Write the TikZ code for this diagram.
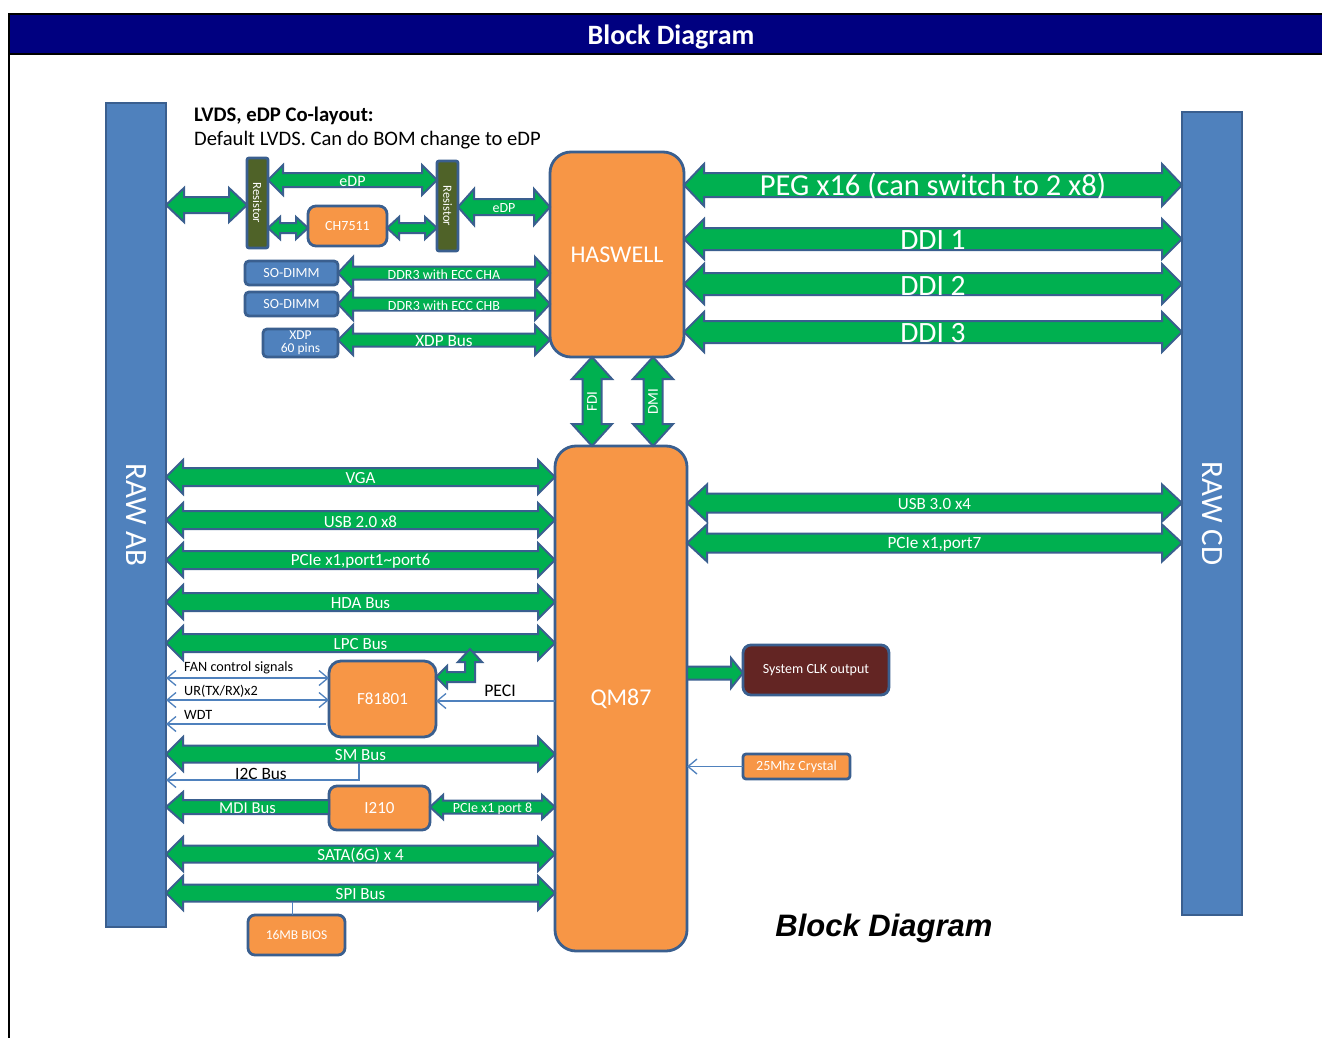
\documentclass[tikz,border=0pt]{standalone}
\usepackage{fontspec}
\setmainfont{Carlito}
\newfontfamily\arialf{Liberation Sans}
\usetikzlibrary{arrows.meta,calc}
\definecolor{orng}{HTML}{F79646}
\definecolor{blu}{HTML}{4F81BD}
\definecolor{bordc}{HTML}{3A5F8F}
\definecolor{grn}{HTML}{00B050}
\definecolor{olivec}{HTML}{4F6228}
\definecolor{dred}{HTML}{632523}
\definecolor{navyc}{HTML}{000080}
\newcommand\fsz[1]{\fontsize{#1}{#1}\selectfont}
% horizontal double fat arrow: #1 left pt, #2 right pt, #3 shaft half, #4 head half, #5 head len, #6 font size, #7 label
\newcommand\hdarrow[7]{%
\path[fatarrow] let \p1=(#1), \p2=(#2) in
 (\x1,\y1) -- (\x1+#5pt,\y1+#4pt) -- (\x1+#5pt,\y1+#3pt) -- (\x2-#5pt,\y1+#3pt) -- (\x2-#5pt,\y1+#4pt) -- (\x2,\y1)
 -- (\x2-#5pt,\y1-#4pt) -- (\x2-#5pt,\y1-#3pt) -- (\x1+#5pt,\y1-#3pt) -- (\x1+#5pt,\y1-#4pt) -- cycle
 (0.5*\x1+0.5*\x2,\y1) node[lbl,yshift=-1.5pt,font=\fsz{#6}]{#7};}
% vertical double fat arrow: #1 top pt, #2 bottom pt
\newcommand\vdarrow[7]{%
\path[fatarrow] let \p1=(#1), \p2=(#2) in
 (\x1,\y1) -- (\x1+#4pt,\y1-#5pt) -- (\x1+#3pt,\y1-#5pt) -- (\x1+#3pt,\y2+#5pt) -- (\x1+#4pt,\y2+#5pt) -- (\x1,\y2)
 -- (\x1-#4pt,\y2+#5pt) -- (\x1-#3pt,\y2+#5pt) -- (\x1-#3pt,\y1-#5pt) -- (\x1-#4pt,\y1-#5pt) -- cycle
 (\x1,0.5*\y1+0.5*\y2) node[lbl,rotate=90,font=\fsz{#6}]{#7};}
\begin{document}
\begin{tikzpicture}[x=1pt,y=-1pt,
  fatarrow/.style={fill=grn,draw=bordc,line width=2pt,line join=miter},
  lbl/.style={text=white,inner sep=0pt},
  bx/.style={draw=bordc,line width=2.8pt,outer sep=0pt,inner sep=0pt,align=center,text=white},
  rawbox/.style={bx,fill=blu,minimum width=60pt},
  obox/.style={bx,fill=orng,rounded corners=#1},
  bbox/.style={bx,fill=blu,rounded corners=4pt},
  resbox/.style={bx,fill=olivec,rounded corners=2pt,minimum width=21pt,minimum height=90pt},
  thin/.style={draw=blu,line width=1.3pt},
  tip/.tip={Straight Barb[length=9pt,width=15pt]},
  plain/.style={text=black,inner sep=0pt}
]
\useasboundingbox (0,0) rectangle (1322,1038);
% header and frame
\fill[white] (0,0) rectangle (1322,1038);
\filldraw[fill=navyc,draw=black,line width=2pt] (9,14) rectangle (1340,54);
\draw[black,line width=2pt] (9,54) -- (9,1045);
\node[lbl,font=\fsz{28}\bfseries] (title) at (671,37) {Block Diagram};

% rails
\node[rawbox,minimum height=824pt] (rawab) at (136,515) {};
\node[lbl,rotate=-90,font=\fsz{31}] (rawabt) at (rawab) {RAW AB};
\node[rawbox,minimum height=803pt] (rawcd) at (1212,513.5) {};
\node[lbl,rotate=-90,font=\fsz{31}] (rawcdt) at (rawcd) {RAW CD};

% chips
\node[obox=21pt,minimum width=134pt,minimum height=205pt,font=\fsz{24}] (haswell) at (617,254.5) {HASWELL};
\node[obox=21pt,minimum width=132pt,minimum height=505pt,font=\fsz{24}] (qm87) at (621,698.5) {QM87};

% notes
\node[plain,anchor=west,font=\fsz{20.7}\bfseries] (note1) at (194,115.5) {LVDS, eDP Co-layout:};
\node[plain,anchor=west,font=\fsz{20.6}] (note2) at (194,140.5) {Default LVDS. Can do BOM change to eDP};

% top-left blocks
\node[resbox] (res1) at (257.5,203) {};
\node[lbl,rotate=-90,font=\fsz{12.5}] (res1t) at (res1) {Resistor};
\node[resbox] (res2) at (447.5,206) {};
\node[lbl,rotate=-90,font=\fsz{12.5}] (res2t) at (res2) {Resistor};
\node[obox=8pt,minimum width=79pt,minimum height=40pt,font=\fsz{14}] (ch) at (347.5,226) {CH7511};
\node[bbox,minimum width=93pt,minimum height=24pt,font=\fsz{14}] (dimm1) at (291.5,273) {SO-DIMM};
\node[bbox,minimum width=93pt,minimum height=24pt,font=\fsz{14}] (dimm2) at (291.5,304) {SO-DIMM};
\node[bbox,minimum width=75pt,minimum height=28pt,font=\fsz{13.5}] (xdp) at (300.5,343) {XDP\\[-1pt]60 pins};

% top-left arrows
\hdarrow{rawab.east |- 0,205}{res1.west |- 0,205}{8}{17}{18}{14}{}
\hdarrow{res1.east |- 0,180}{res2.west |- 0,180}{7}{15}{15}{16}{eDP}
\hdarrow{res1.east |- 0,228}{ch.west |- 0,228}{5}{11}{12}{12}{}
\hdarrow{ch.east |- 0,228}{res2.west |- 0,228}{5}{11}{12}{12}{}
\hdarrow{res2.east |- 0,207}{haswell.west |- 0,207}{8}{18}{16}{14}{eDP}
\hdarrow{dimm1.east}{haswell.west |- dimm1.east}{6.5}{16}{15}{14}{DDR3 with ECC CHA}
\hdarrow{dimm2.east}{haswell.west |- dimm2.east}{6.5}{16}{15}{14}{DDR3 with ECC CHB}
\hdarrow{xdp.east |- 0,340}{haswell.west |- 0,340}{6.5}{15}{15}{17.2}{XDP Bus}

% right of haswell
\hdarrow{haswell.east |- 0,185}{rawcd.west |- 0,185}{12}{21}{20}{30.5}{PEG x16 (can switch to 2 x8)}
\hdarrow{haswell.east |- 0,239}{rawcd.west |- 0,239}{11}{20}{20}{29.5}{DDI 1}
\hdarrow{haswell.east |- 0,284}{rawcd.west |- 0,284}{11}{20}{20}{29.5}{DDI 2}
\hdarrow{haswell.east |- 0,332}{rawcd.west |- 0,332}{11}{20}{20}{29.5}{DDI 3}

% FDI / DMI
\vdarrow{haswell.south -| 592,0}{qm87.north -| 592,0}{9.5}{20}{22}{15}{FDI}
\vdarrow{haswell.south -| 653,0}{qm87.north -| 653,0}{9.5}{20}{22}{15}{DMI}

% left of QM87
\hdarrow{rawab.east |- 0,477}{qm87.west |- 0,477}{9}{17}{17}{17}{VGA}
\hdarrow{rawab.east |- 0,520}{qm87.west |- 0,520}{9}{17}{17}{17}{USB 2.0 x8}
\hdarrow{rawab.east |- 0,560}{qm87.west |- 0,560}{9}{17}{17}{17}{PCIe x1,port1\textasciitilde port6}
\hdarrow{rawab.east |- 0,602}{qm87.west |- 0,602}{9}{17}{17}{17}{HDA Bus}
\hdarrow{rawab.east |- 0,643}{qm87.west |- 0,643}{9}{17}{17}{17}{LPC Bus}
\hdarrow{rawab.east |- 0,754}{qm87.west |- 0,754}{8.5}{17}{17}{17}{SM Bus}
\hdarrow{rawab.east |- 0,854}{qm87.west |- 0,854}{8.5}{17}{17}{17}{SATA(6G) x 4}
\hdarrow{rawab.east |- 0,893}{qm87.west |- 0,893}{8.5}{17}{17}{17}{SPI Bus}

% right of QM87
\hdarrow{qm87.east |- 0,503}{rawcd.west |- 0,503}{9.5}{18.5}{20}{17}{USB 3.0 x4}
\hdarrow{qm87.east |- 0,543}{rawcd.west |- 0,543}{9.5}{18.5}{20}{17.2}{PCIe x1,port7}

% F81801 and its signals
\node[obox=12pt,minimum width=107pt,minimum height=76pt,font=\fsz{17}] (sio) at (382.5,699) {F81801};
\draw[thin,tip-tip] (rawab.east |- 0,678) -- (sio.west |- 0,678);
\draw[thin,tip-tip] (rawab.east |- 0,700) -- (sio.west |- 0,700);
\draw[thin,-tip] ($(sio.west |- 0,724)+(-3,0)$) -- (rawab.east |- 0,724);
\draw[thin,-tip] (qm87.west |- 0,701) -- (sio.east |- 0,701);
\node[plain,anchor=west,font=\fsz{14.2}] (fan) at (184,668) {FAN control signals};
\node[plain,anchor=west,font=\fsz{14.2}] (ur) at (184,691) {UR(TX/RX)x2};
\node[plain,anchor=west,font=\fsz{14.2}] (wdt) at (184,715) {WDT};
\node[plain,font=\fsz{17.7}] (peci) at (500,691) {PECI};
% bent arrow to LPC bus
\path[fatarrow] let \p1=(sio.east |- 0,677) in
  (\x1,\y1) -- (\x1+11pt,\y1+11pt) -- (\x1+11pt,\y1+5pt) -- (\x1+29pt,\y1+5pt) -- (\x1+29pt,\y1+15pt)
  -- (\x1+22pt,\y1+15pt) -- (\x1+34pt,\y1+28pt) -- (\x1+46pt,\y1+15pt) -- (\x1+39pt,\y1+15pt)
  -- (\x1+39pt,\y1-5pt) -- (\x1+11pt,\y1-5pt) -- (\x1+11pt,\y1-11pt) -- cycle;

% I2C
\coordinate (i2cs) at (359,762.5);
\draw[thin,-tip] (i2cs) |- (rawab.east |- 0,780);
\node[plain,font=\fsz{17.3}] (i2c) at (261,774) {I2C Bus};

% I210
\node[obox=8pt,minimum width=101pt,minimum height=44pt,font=\fsz{17}] (i210) at (379.5,808) {I210};
\path[fatarrow] let \p1=(rawab.east |- 0,807), \p2=(i210.west |- 0,807) in
  (\x1,\y1) -- (\x1+17pt,\y1+15pt) -- (\x1+17pt,\y1+7pt) -- (\x2,\y1+7pt) -- (\x2,\y1-7pt)
  -- (\x1+17pt,\y1-7pt) -- (\x1+17pt,\y1-15pt) -- cycle
  (0.5*\x1+0.5*\x2,\y1) node[lbl,yshift=-1.5pt,font=\fsz{16.6}]{MDI Bus};
\hdarrow{i210.east |- 0,807}{qm87.west |- 0,807}{6.5}{12}{13}{14}{PCIe x1 port 8}

% BIOS
\node[obox=7pt,minimum width=97pt,minimum height=40pt,font=\fsz{13.5}] (bios) at (296.5,935) {16MB BIOS};
\draw[thin,line width=1pt] (bios.north -| 292,0) -- ++(0,-13);

% CLK output
\node[bx,fill=dred,rounded corners=8pt,minimum width=146pt,minimum height=50pt,font=\fsz{14}] (clk) at (816,670) {System CLK output};
\path[fatarrow] let \p1=(qm87.east |- 0,673), \p2=(clk.west |- 0,673) in
  (\x1,\y1+6.5pt) -- (\x2-12pt,\y1+6.5pt) -- (\x2-12pt,\y1+15pt) -- (\x2,\y1) -- (\x2-12pt,\y1-15pt)
  -- (\x2-12pt,\y1-6.5pt) -- (\x1,\y1-6.5pt) -- cycle;

% crystal
\node[obox=3pt,minimum width=107pt,minimum height=25pt,font=\fsz{14}] (xtal) at (796.5,766.5) {25Mhz Crystal};
\draw[thin,-tip] (xtal.west) -- (qm87.east |- xtal.west);

% caption
\node[plain,font=\arialf\bfseries\itshape\fsz{31}] (cap) at (884,928) {Block Diagram};
\end{tikzpicture}
\end{document}
